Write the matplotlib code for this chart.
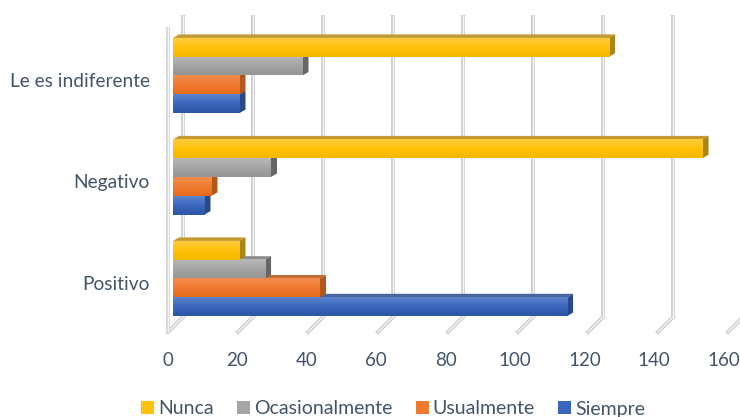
import numpy as np
import matplotlib
matplotlib.use("Agg")
import matplotlib.pyplot as plt
from matplotlib.patches import Polygon, Patch
from matplotlib.colors import LinearSegmentedColormap

categories = ["Positivo", "Negativo", "Le es indiferente"]
series = ["Siempre", "Usualmente", "Ocasionalmente", "Nunca"]
siempre = [112.6, 9, 19]
usualmente = [42, 11, 19]
ocasionalmente = [26.3, 28, 37]
nunca = [19, 151.3, 124.6]
ticks = [0, 20, 40, 60, 80, 100, 120, 140, 160]

values = [siempre, usualmente, ocasionalmente, nunca]
# top of bar, middle, bottom, side face, top face
colors = [
    ["#5b82cc", "#3a67bd", "#2c56a6", "#2a4a86", "#47669f"],
    ["#f58d4e", "#ee7a30", "#e56c1c", "#b2581c", "#bf6e36"],
    ["#b8b8b8", "#a5a5a5", "#959595", "#666666", "#8a8a8a"],
    ["#ffcb3c", "#ffc208", "#f5b800", "#a8861a", "#c29a30"],
]
text_color = "#44546a"

plt.rcParams["font.family"] = ["Lato", "DejaVu Sans"]
W, H = 740, 417
fig = plt.figure(figsize=(W / 100, H / 100), dpi=100)
ax = fig.add_axes([0, 0, 1, 1])
ax.axis("off")

# pixel helpers, picture is one big axes
PX = 3.5       # pixels per unit on x
X0 = 173       # pixel of value 0 at bar front
PY = 101.5     # pixels between categories
Y0 = 278.5     # pixel of Positivo centre
dx = 6 / PX
dy = 3.5 / PY
bar_h = 18.8 / PY


def yp(py):
    return (Y0 - py) / PY


def xp(px):
    return (px - X0) / PX


# walls: double looking lines with the floor going to the front
back = 10 / PX
for t in ticks:
    x_back = t + back
    x_front = t - 5 / PX
    for lw, c in [(4.0, "#cfd0d4"), (1.3, "#f5f5f6")]:
        ax.plot([x_back, x_back], [yp(15), yp(317)], color=c, lw=lw * 0.72, zorder=1,
                solid_capstyle="butt")
        ax.plot([x_back, x_front], [yp(317), yp(332)], color=c, lw=lw * 0.72, zorder=1)
for lw, c in [(4.0, "#d6d7da"), (1.3, "#f6f6f8")]:
    ax.plot([xp(168), xp(168)], [yp(27), yp(332)], color=c, lw=lw * 0.72, zorder=1,
            solid_capstyle="butt")

# bars, bottom one first so upper ones cover its top face
z = 3
for pos in range(len(categories)):
    for i in range(len(series)):
        v = values[i][pos]
        top_c, mid_c, bot_c, side_c, roof_c = colors[i]
        y0 = pos + (i - 2) * bar_h
        y1 = y0 + bar_h
        ax.add_patch(Polygon([[0, y1], [v, y1], [v + dx, y1 + dy], [dx, y1 + dy]],
                             fc=roof_c, ec="none", zorder=z))
        ax.add_patch(Polygon([[v, y0], [v + dx, y0 + dy], [v + dx, y1 + dy], [v, y1]],
                             fc=side_c, ec="none", zorder=z))
        cmap = LinearSegmentedColormap.from_list("b", [top_c, mid_c, bot_c])
        grad = np.linspace(0, 1, 32).reshape(-1, 1)
        ax.imshow(grad, cmap=cmap, extent=[0, v, y0, y1], aspect="auto",
                  origin="upper", zorder=z + 0.5, interpolation="bilinear")
        z += 1

ax.set_xlim(xp(0), xp(W))
ax.set_ylim(yp(H), yp(0))

# tick labels run a little tighter than the gridlines
for t in ticks:
    ax.text(t * 0.992 - 5 / PX, yp(361), str(t), ha="center", va="center", fontsize=13.5,
            color=text_color)
for pos, name in enumerate(categories):
    ax.text(xp(150), pos - 6 / PY, name, ha="right", va="center", fontsize=13.8,
            color=text_color)

handles = [Patch(facecolor=colors[i][1], label=series[i]) for i in [3, 2, 1, 0]]
ax.legend(handles=handles, loc="center", bbox_to_anchor=(xp(393), yp(409)),
          bbox_transform=ax.transData, ncol=4, frameon=False, fontsize=14,
          labelcolor=text_color, handlelength=0.67, handleheight=0.67,
          handletextpad=0.2, columnspacing=1.2, borderpad=0)

fig.savefig("out.png", dpi=100)
